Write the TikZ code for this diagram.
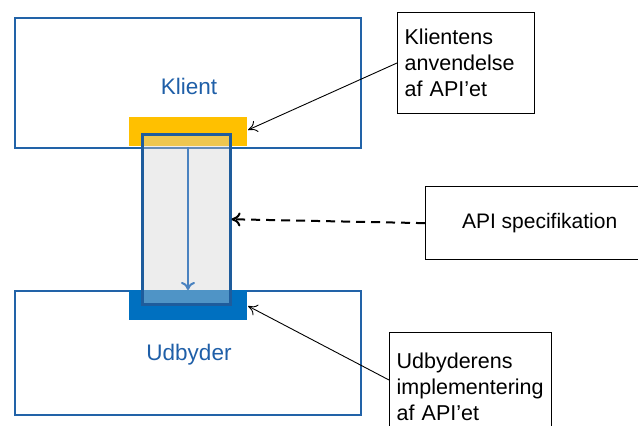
\documentclass[tikz,border=0pt]{standalone}
\usepackage{fontspec}
\setmainfont{Liberation Sans}
\usetikzlibrary{arrows.meta}
\definecolor{boxblue}{HTML}{2263A8}
\definecolor{txtblue}{HTML}{1F5FA8}
\definecolor{apiorange}{HTML}{FFC000}
\definecolor{apiblue}{HTML}{0070C0}
\definecolor{midborder}{HTML}{1E5C9C}
\definecolor{midfill}{HTML}{D0D0D0}
\definecolor{arrowblue}{HTML}{4A82C0}
\begin{document}
\begin{tikzpicture}[x=1pt,y=-1pt,
  sysbox/.style={draw=boxblue,line width=1.5pt,minimum width=346pt,anchor=north west,inner sep=0pt},
  patch/.style={draw=none,minimum width=118pt,anchor=north west,inner sep=0pt},
  callout/.style={draw=black,line width=1.3pt,anchor=north west,align=left,inner xsep=7pt,
    font=\fontsize{21.5}{26}\selectfont},
  lbl/.style={text=txtblue,font=\fontsize{22.5}{26}\selectfont},
  thinarrow/.style={-{To[length=9pt,width=12pt]},line width=0.9pt},
  dasharrow/.style={-{To[length=9pt,width=14pt]},line width=2pt,dashed,dash pattern=on 9pt off 6pt}]
\useasboundingbox (0,0) rectangle (638,426);
\clip (0,0) rectangle (638,426);
\fill[white] (0,0) rectangle (638,426);
% system boxes
\node[sysbox,minimum height=130pt] (klient) at (14,17) {};
\node[sysbox,minimum height=124pt] (udbyder) at (14,290) {};
\node[lbl] (klientlbl) at (189,86) {Klient};
\node[lbl] (udbyderlbl) at (189,355) {Udbyder};
% patches
\node[patch,fill=apiorange,minimum height=29pt] (orange) at (129,117) {};
\node[patch,fill=apiblue,minimum height=30pt] (blue) at (129,290) {};
% middle channel
\node[draw=midborder,line width=2.5pt,fill=midfill,fill opacity=0.38,
  minimum width=88pt,minimum height=170pt,anchor=north west,inner sep=0pt] (mid) at (141,133) {};
\coordinate (arrtop) at (188,147);
\coordinate (arrbot) at (188,290);
\draw[arrowblue,line width=2pt,-{To[length=8pt,width=14pt]}] (arrtop) -- (arrbot);
% callouts
\node[callout,text width=123pt,minimum width=137pt,minimum height=101pt] (kcall) at (397,12)
  {Klientens\\anvendelse\\af API’et};
\node[callout,text width=148pt,minimum width=162pt,minimum height=108pt] (ucall) at (389,332)
  {Udbyderens\\implementering\\af API’et};
\node[draw=black,line width=1.3pt,minimum width=228pt,minimum height=73pt,anchor=north west,
  font=\fontsize{21}{26}\selectfont] (spec) at (425,186) {API specifikation};
\coordinate (ktip) at (248,130);
\coordinate (utip) at (248,306);
\coordinate (kstart) at (397,63);
\coordinate (ustart) at (389,380);
\draw[thinarrow] (kstart) -- (ktip);
\draw[thinarrow] (ustart) -- (utip);
\draw[dasharrow] (spec.west) -- (mid.east);
\end{tikzpicture}
\end{document}
